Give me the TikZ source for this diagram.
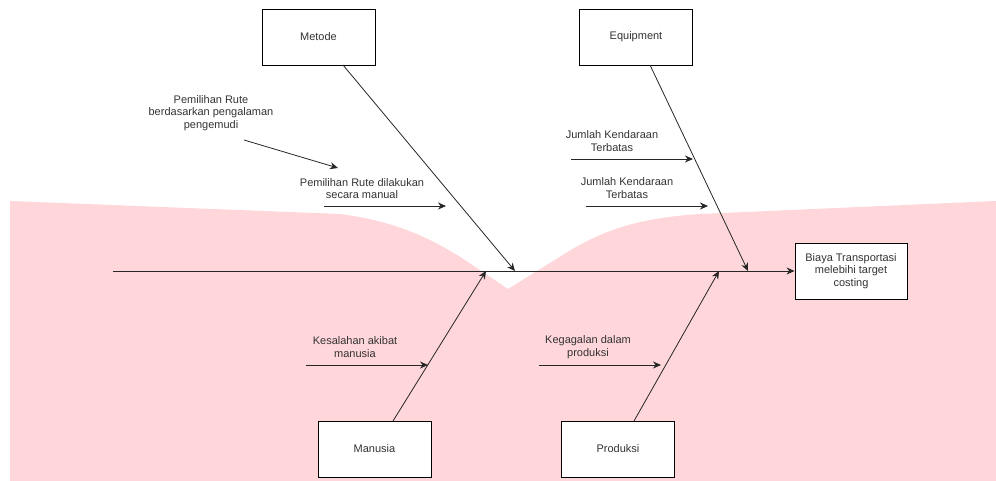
\documentclass[tikz,border=0pt]{standalone}
\usepackage{fontspec}
\setmainfont{Liberation Sans}
\usetikzlibrary{arrows.meta}
\definecolor{bgpink}{HTML}{FFD6D9}
\definecolor{txt}{HTML}{333333}
\tikzset{
  box/.style={draw=black, fill=white, line width=0.9pt, minimum width=113pt, minimum height=56pt, inner sep=0pt, font=\fontsize{11}{12.8}\selectfont, text=txt},
  lbl/.style={align=center, font=\fontsize{11}{12.8}\selectfont, text=txt, inner sep=0pt},
  bone/.style={draw=black!85, line width=0.8pt, -{Stealth[length=8pt,width=7pt]}},
  sub/.style={draw=black!85, line width=0.8pt, -{Stealth[length=8pt,width=7pt]}}
}
\begin{document}
\begin{tikzpicture}[x=1pt,y=-1pt]
\useasboundingbox (0,0) rectangle (996,481);
% pink background
\fill[bgpink] (10,481) -- (10,201) -- (340,214) .. controls (395,221) and (430,238) .. (462,258) -- (508,289) -- (566,253) .. controls (605,229) and (640,218) .. (700,214) -- (996,201) -- (996,481) -- cycle;

% boxes
\node[box] (metode) at (318.5,37) {Metode};
\node[box] (equip) at (636,37) {Equipment};
\node[box] (manusia) at (374.5,449) {Manusia};
\node[box] (produksi) at (618,449) {Produksi};
\node[box, minimum width=112pt, align=center] (effect) at (851,271) {Biaya Transportasi\\melebihi target\\costing};

% spine
\coordinate (tail) at (113,271);
\draw[bone] (tail) -- (effect.west);

% bone attachment points
\coordinate (mA) at (515,271);
\coordinate (eA) at (748,271);
\coordinate (nA) at (486,271);
\coordinate (pA) at (719,271);
\coordinate (mS) at (343,65);
\coordinate (eS) at (650,65);
\coordinate (nS) at (393,421);
\coordinate (pS) at (634,421);
\draw[bone] (mS) -- (mA);
\draw[bone] (eS) -- (eA);
\draw[bone] (nS) -- (nA);
\draw[bone] (pS) -- (pA);

% sub causes
\node[lbl] (t1) at (211,113) {Pemilihan Rute\\berdasarkan pengalaman\\pengemudi};
\node[lbl] (t2) at (362,188.5) {Pemilihan Rute dilakukan\\secara manual};
\node[lbl] (t3) at (612,141) {Jumlah Kendaraan\\Terbatas};
\node[lbl] (t4) at (627,188) {Jumlah Kendaraan\\Terbatas};
\node[lbl] (t5) at (355,347) {Kesalahan akibat\\manusia};
\node[lbl] (t6) at (588,347) {Kegagalan dalam\\produksi};

\coordinate (a1s) at (244,140); \coordinate (a1e) at (338,168);
\coordinate (a2s) at (324,206); \coordinate (a2e) at (446,206);
\coordinate (a3s) at (571,159); \coordinate (a3e) at (693,159);
\coordinate (a4s) at (586,206); \coordinate (a4e) at (708,206);
\coordinate (a5s) at (306,365); \coordinate (a5e) at (428,365);
\coordinate (a6s) at (539,365); \coordinate (a6e) at (661,365);
\draw[sub] (a1s) -- (a1e);
\draw[sub] (a2s) -- (a2e);
\draw[sub] (a3s) -- (a3e);
\draw[sub] (a4s) -- (a4e);
\draw[sub] (a5s) -- (a5e);
\draw[sub] (a6s) -- (a6e);
\end{tikzpicture}
\end{document}
